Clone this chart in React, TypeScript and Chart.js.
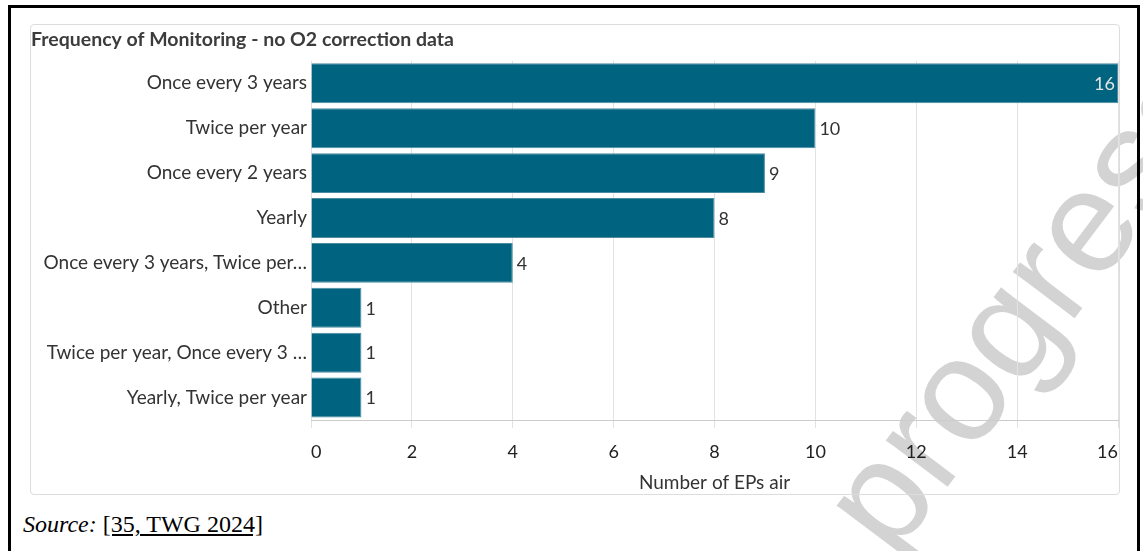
import React, { useEffect, useRef } from "react";
import { Chart, registerables } from "chart.js";

Chart.register(...registerables);

const chartTitle = "Frequency of Monitoring - no O2 correction data";
const categories = [
  "Once every 3 years",
  "Twice per year",
  "Once every 2 years",
  "Yearly",
  "Once every 3 years, Twice per…",
  "Other",
  "Twice per year, Once every 3 …",
  "Yearly, Twice per year",
];
const counts = [16, 10, 9, 8, 4, 1, 1, 1];
const xMin = 0;
const xMax = 16;
const xStep = 2;
const xAxisTitle = "Number of EPs air";

const FONT = "Lato, 'Source Sans Pro', sans-serif";
const BAR = "#00637f";

const valueLabels = {
  id: "valueLabels",
  afterDatasetsDraw(chart: any) {
    const ctx = chart.ctx;
    const meta = chart.getDatasetMeta(0);
    ctx.save();
    ctx.font = `18px ${FONT}`;
    ctx.textBaseline = "middle";
    meta.data.forEach((bar: any, i: number) => {
      const v = counts[i];
      if (v >= xMax) {
        ctx.fillStyle = "#e4e4e4";
        ctx.textAlign = "right";
        ctx.fillText(String(v), bar.x - 3, bar.y + 1);
      } else {
        ctx.fillStyle = "#333";
        ctx.textAlign = "left";
        ctx.fillText(String(v), bar.x + 4, bar.y + 1);
      }
    });
    ctx.restore();
  },
};

const axisTitle = {
  id: "axisTitle",
  afterDraw(chart: any) {
    const ctx = chart.ctx;
    const a = chart.chartArea;
    ctx.save();
    ctx.font = `19px ${FONT}`;
    ctx.fillStyle = "#333";
    ctx.textAlign = "center";
    ctx.textBaseline = "middle";
    ctx.fillText(xAxisTitle, (a.left + a.right) / 2, a.bottom + 63);
    ctx.restore();
  },
};

export default function App() {
  const ref = useRef<HTMLCanvasElement>(null);
  useEffect(() => {
    if (!ref.current) return;
    const chart = new Chart(ref.current, {
      type: "bar",
      data: {
        labels: categories,
        datasets: [
          {
            data: counts,
            backgroundColor: BAR,
            borderColor: "#4b8ba0",
            borderWidth: 1,
            barPercentage: 0.89,
            categoryPercentage: 1,
          },
        ],
      },
      options: {
        indexAxis: "y",
        responsive: false,
        animation: false,
        devicePixelRatio: 1,
        layout: { padding: { left: 0, right: 1, top: 0, bottom: 0 } },
        plugins: {
          legend: { display: false },
          tooltip: { enabled: false },
          title: {
            display: true,
            text: chartTitle,
            align: "start",
            color: "#3c3c3c",
            font: { family: FONT, size: 19.5, weight: "bold" },
            padding: { top: 3.5, bottom: 9 },
          },
        },
        scales: {
          x: {
            min: xMin,
            max: xMax,
            ticks: {
              stepSize: xStep,
              color: "#222",
              font: { family: FONT, size: 18 },
              padding: 13,
              align: "inner",
            },
            grid: { color: "#e2e2e2", tickLength: 8 },
            border: { color: "#cccccc" },
            afterFit: (s: any) => {
              s.height = 74;
              s.paddingLeft = 0;
              s.paddingRight = 0;
            },
          },
          y: {
            grid: { display: false, drawTicks: false, tickLength: 0 },
            border: { display: false },
            ticks: {
              color: "#333",
              font: { family: FONT, size: 19 },
              padding: 4,
            },
            afterFit: (s: any) => {
              s.width = 280;
            },
          },
        },
      },
      plugins: [valueLabels, axisTitle],
    });
    return () => chart.destroy();
  }, []);

  return (
    <div
      style={{
        position: "fixed",
        left: 0,
        top: 0,
        width: 1143,
        height: 551,
        background: "#fff",
        overflow: "hidden",
      }}
    >
      <div
        style={{
          position: "absolute",
          left: 893,
          top: 560,
          fontFamily: "'Liberation Sans', Arial, sans-serif",
          fontSize: 146,
          lineHeight: 1,
          color: "#d3d3d3",
          whiteSpace: "nowrap",
          transformOrigin: "0 0",
          transform: "rotate(-53deg) translateY(-0.8465em)",
          zIndex: 0,
        }}
      >
        progress
      </div>
      <div
        style={{
          position: "absolute",
          left: 30,
          top: 24,
          width: 1090,
          height: 471,
          border: "1px solid #dddddd",
          borderRadius: 4,
          boxSizing: "border-box",
          zIndex: 1,
        }}
      >
        <canvas
          ref={ref}
          width={1088}
          height={469}
          style={{ position: "absolute", left: 0, top: 0, width: 1088, height: 469 }}
        />
      </div>
      <div
        style={{
          position: "absolute",
          left: 23,
          top: 511,
          fontFamily: "'Liberation Serif', 'Times New Roman', serif",
          fontSize: 24,
          color: "#000",
          zIndex: 2,
          whiteSpace: "nowrap",
        }}
      >
        <i>Source:</i> <span style={{ textDecoration: "underline" }}>[35, TWG 2024]</span>
      </div>
      <div
        style={{
          position: "absolute",
          left: 8,
          top: 5,
          width: 1132,
          height: 560,
          border: "3px solid #000",
          boxSizing: "border-box",
          zIndex: 3,
        }}
      />
    </div>
  );
}
